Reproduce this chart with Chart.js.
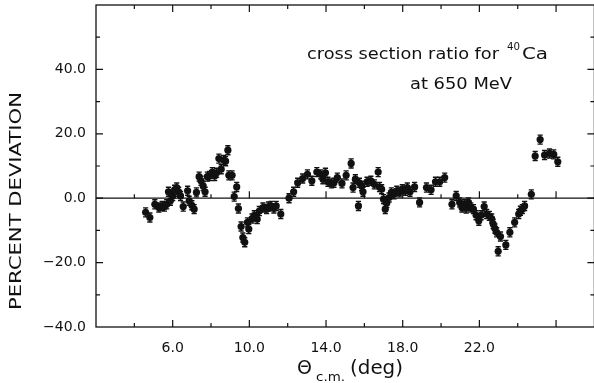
<!DOCTYPE html>
<html>
<head>
<meta charset="utf-8">
<script src="https://cdn.jsdelivr.net/npm/chart.js@4.4.1/dist/chart.umd.min.js"></script>
<style>
  html, body { margin: 0; padding: 0; background: #fff; overflow: hidden; }
  #wrap { width: 594px; height: 383px; overflow: hidden; }
  #c { display: block; }
</style>
</head>
<body>
<div id="wrap"><canvas id="c" width="598" height="383"></canvas></div>
<script>
// Centre-of-mass angle (deg) for each measured point
const theta = [
  4.59, 4.81, 5.07, 5.28, 5.45, 5.57, 5.69, 5.78, 5.88, 6.00,
  6.10, 6.21, 6.31, 6.41, 6.55, 6.78, 6.86, 7.00, 7.12, 7.24,
  7.38, 7.48, 7.59, 7.69, 7.81, 7.93, 8.07, 8.19, 8.29, 8.41,
  8.53, 8.66, 8.76, 8.88, 8.93, 9.10, 9.21, 9.34, 9.43, 9.57,
  9.66, 9.76, 9.90, 9.97, 10.14, 10.26, 10.41, 10.52, 10.71, 10.90,
  11.00, 11.14, 11.28, 11.40, 11.64, 12.07, 12.31, 12.52, 12.78, 13.03,
  13.26, 13.52, 13.72, 13.84, 13.97, 14.10, 14.28, 14.41, 14.59, 14.83,
  15.05, 15.31, 15.41, 15.53, 15.69, 15.74, 15.86, 15.93, 16.14, 16.34,
  16.52, 16.72, 16.79, 16.90, 17.00, 17.09, 17.17, 17.29, 17.41, 17.55,
  17.69, 17.84, 17.98, 18.14, 18.24, 18.38, 18.62, 18.88, 19.24, 19.48,
  19.71, 19.93, 20.19, 20.57, 20.79, 20.97, 21.09, 21.21, 21.31, 21.43,
  21.55, 21.69, 21.83, 21.97, 22.09, 22.25, 22.38, 22.52, 22.64, 22.72,
  22.81, 22.90, 22.98, 23.10, 23.38, 23.59, 23.84, 24.05, 24.14, 24.24,
  24.36, 24.71, 24.91, 25.17, 25.40, 25.66, 25.88, 26.09
];

// Percent deviation of the cross section ratio at each angle
const deviation = [
  -4.4, -6.0, -1.9, -2.9, -2.4, -2.6, -1.9, 2.0, -0.8, 0.7,
  2.6, 3.3, 2.0, 0.7, -2.6, 2.3, -0.8, -2.2, -3.4, 1.8,
  6.7, 5.4, 3.8, 2.0, 6.7, 6.9, 8.1, 6.9, 7.9, 12.3,
  9.0, 11.9, 11.5, 14.9, 7.1, 7.1, 0.5, 3.5, -3.2, -8.8,
  -12.2, -13.7, -7.5, -9.6, -6.3, -5.3, -6.5, -4.0, -2.9, -3.4,
  -2.6, -2.4, -3.2, -2.4, -4.9, 0.0, 2.0, 4.8, 6.1, 7.4,
  5.4, 8.1, 7.4, 5.9, 7.9, 5.1, 4.6, 4.8, 6.4, 4.6,
  7.1, 10.8, 3.3, 5.9, -2.4, 4.8, 3.8, 2.0, 5.1, 5.4,
  4.3, 8.1, 3.5, 2.8, -0.3, -3.4, -1.5, 0.2, 1.8, 1.2,
  2.3, 1.8, 2.8, 2.3, 3.3, 2.0, 3.5, -1.3, 3.3, 2.6,
  5.1, 5.1, 6.4, -1.9, 0.7, -1.3, -2.9, -1.9, -3.2, -1.3,
  -2.9, -3.4, -5.3, -7.0, -5.3, -2.6, -4.9, -5.5, -6.3, -8.0,
  -9.4, -10.6, -16.5, -11.9, -14.5, -10.6, -7.5, -4.9, -3.9, -3.4,
  -2.4, 1.2, 13.1, 18.2, 13.4, 13.9, 13.6, 11.3
];

// Statistical uncertainty (percent) on each point
const uncertainty = 1.4;

// Axis ranges and labelled ticks
const xMin = 2, xMax = 28, xStep = 2;
const yMin = -40, yMax = 60, yStep = 10;
const xTickLabels = [6, 10, 14, 18, 22];
const yTickLabels = [-40, -20, 0, 20, 40];

const INK = '#111';
const FONT = '"DejaVu Sans", "Liberation Sans", sans-serif';

const points = theta.map((t, i) => ({ x: t, y: deviation[i] }));

// Vertical error bars with short caps
const errorBars = {
  id: 'errorBars',
  beforeDatasetsDraw(chart) {
    const { ctx, scales: { x, y } } = chart;
    ctx.save();
    ctx.strokeStyle = INK;
    ctx.lineWidth = 1.4;
    points.forEach(p => {
      const px = x.getPixelForValue(p.x);
      const top = y.getPixelForValue(p.y + uncertainty);
      const bot = y.getPixelForValue(p.y - uncertainty);
      ctx.beginPath();
      ctx.moveTo(px, top); ctx.lineTo(px, bot);
      ctx.moveTo(px - 2.6, top); ctx.lineTo(px + 2.6, top);
      ctx.moveTo(px - 2.6, bot); ctx.lineTo(px + 2.6, bot);
      ctx.stroke();
    });
    ctx.restore();
  }
};

// Box frame, zero line and inward tick marks on all sides
const frame = {
  id: 'frame',
  afterDatasetsDraw(chart) {
    const { ctx, chartArea: a, scales: { x, y } } = chart;
    ctx.save();
    ctx.strokeStyle = INK;
    ctx.lineWidth = 1.3;
    ctx.strokeRect(a.left, a.top, a.right - a.left, a.bottom - a.top);
    const y0 = y.getPixelForValue(0);
    ctx.lineWidth = 1.2;
    ctx.beginPath();
    ctx.moveTo(a.left, y0); ctx.lineTo(a.right, y0);
    ctx.stroke();

    ctx.lineWidth = 1.2;
    ctx.beginPath();
    x.ticks.forEach(t => {
      if (t.value <= xMin || t.value >= xMax) return;
      const px = x.getPixelForValue(t.value);
      const len = (t.value % 4 === 2) ? 7 : 4;
      ctx.moveTo(px, a.bottom); ctx.lineTo(px, a.bottom - len);
      ctx.moveTo(px, a.top); ctx.lineTo(px, a.top + len);
      ctx.moveTo(px, y0); ctx.lineTo(px, y0 - len);
    });
    y.ticks.forEach(t => {
      if (t.value <= yMin || t.value >= yMax) return;
      const py = y.getPixelForValue(t.value);
      const len = (t.value % 20 === 0) ? 7 : 4;
      ctx.moveTo(a.left, py); ctx.lineTo(a.left + len, py);
      ctx.moveTo(a.right, py); ctx.lineTo(a.right - len, py);
    });
    ctx.stroke();
    ctx.restore();
  }
};

// Draw a string stretched horizontally to a given width
function fillStretched(ctx, text, x, y, width) {
  const w = ctx.measureText(text).width;
  ctx.save();
  ctx.translate(x, y);
  ctx.scale(width / w, 1);
  ctx.fillText(text, 0, 0);
  ctx.restore();
}

// Axis titles and the in-plot caption
const captions = {
  id: 'captions',
  afterDraw(chart) {
    const { ctx } = chart;
    ctx.save();
    ctx.fillStyle = INK;
    ctx.textBaseline = 'alphabetic';
    ctx.textAlign = 'left';

    // caption, first line with superscript mass number
    ctx.font = '16px ' + FONT;
    fillStretched(ctx, 'cross section ratio for', 307, 59, 192);
    ctx.font = '11px ' + FONT;
    fillStretched(ctx, '40', 507, 50, 13);
    ctx.font = '16px ' + FONT;
    fillStretched(ctx, 'Ca', 522, 59, 26);
    fillStretched(ctx, 'at 650 MeV', 410, 89, 102);

    // x title: Theta with c.m. subscript
    ctx.font = '19px ' + FONT;
    ctx.fillText('\u0398', 297, 374);
    ctx.font = '13px ' + FONT;
    fillStretched(ctx, 'c.m.', 316, 381, 29);
    ctx.font = '19px ' + FONT;
    fillStretched(ctx, '(deg)', 350, 374, 53);

    // y title
    ctx.translate(17, 201);
    ctx.rotate(-Math.PI / 2);
    ctx.font = '16px ' + FONT;
    ctx.textBaseline = 'middle';
    fillStretched(ctx, 'PERCENT DEVIATION', -109, 0, 218);
    ctx.restore();
  }
};

// Fixed axis boxes so the plotting area keeps its place
const fixBox = (s, size, horizontal) => {
  if (horizontal) s.height = size; else s.width = size;
  s.paddingTop = 0; s.paddingBottom = 0;
  s.paddingLeft = 0; s.paddingRight = 0;
};

new Chart(document.getElementById('c'), {
  type: 'scatter',
  data: {
    datasets: [{
      data: points,
      pointRadius: 3.6,
      pointHoverRadius: 3.6,
      backgroundColor: INK,
      borderWidth: 0
    }]
  },
  options: {
    responsive: false,
    animation: false,
    devicePixelRatio: 1,
    layout: { padding: { left: 0, top: 5, right: 0, bottom: 0 } },
    plugins: { legend: { display: false }, tooltip: { enabled: false } },
    scales: {
      x: {
        type: 'linear', min: xMin, max: xMax,
        grid: { display: false, drawTicks: false },
        border: { display: false },
        ticks: {
          stepSize: xStep, autoSkip: false, maxRotation: 0, padding: 13,
          color: INK, font: { family: FONT, size: 14 },
          callback: v => xTickLabels.includes(v) ? v.toFixed(1) : ''
        },
        afterFit: s => fixBox(s, 56, true)
      },
      y: {
        type: 'linear', min: yMin, max: yMax,
        grid: { display: false, drawTicks: false },
        border: { display: false },
        ticks: {
          stepSize: yStep, autoSkip: false, padding: 10,
          color: INK, font: { family: FONT, size: 14 },
          callback: v => yTickLabels.includes(v) ? (v < 0 ? '\u2212' + Math.abs(v).toFixed(1) : v.toFixed(1)) : ''
        },
        afterFit: s => fixBox(s, 96, false)
      }
    }
  },
  plugins: [errorBars, frame, captions]
});
</script>
</body>
</html>
